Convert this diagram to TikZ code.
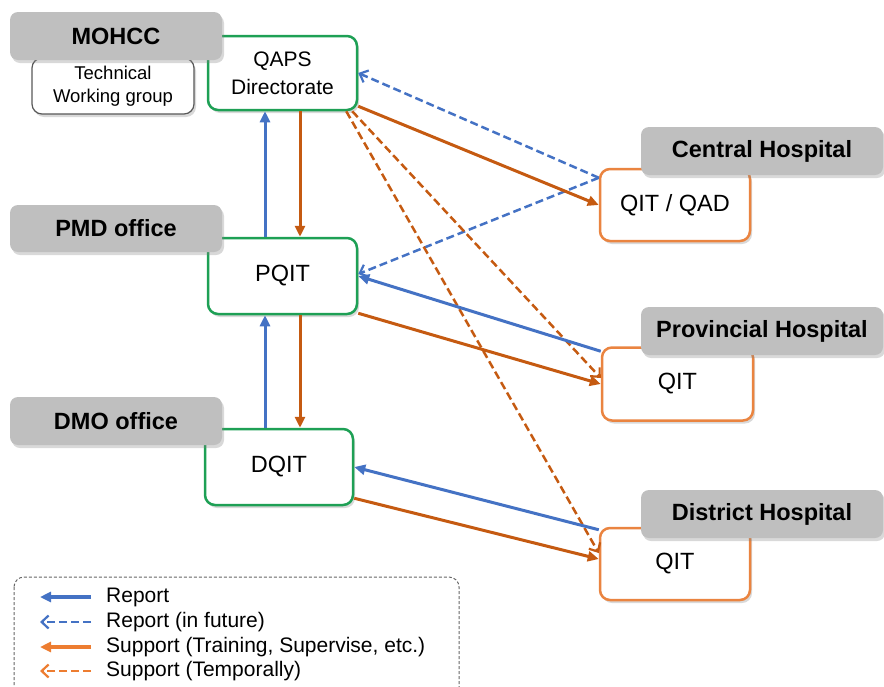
\documentclass[tikz,border=0pt]{standalone}
\usepackage{fontspec}
\setmainfont{Liberation Sans}
\usetikzlibrary{arrows.meta,shadows}

\definecolor{repblue}{RGB}{68,114,196}
\definecolor{suporange}{RGB}{197,90,17}
\definecolor{keyorange}{RGB}{237,125,49}
\definecolor{hosporange}{RGB}{234,132,64}
\definecolor{teamgreen}{RGB}{30,160,85}
\definecolor{labelgray}{RGB}{191,191,191}

\newcommand{\headfont}{\fontsize{23.5}{27}\selectfont\bfseries}
\newcommand{\boxfont}{\fontsize{23.5}{28}\selectfont}

\tikzset{
  softshadow/.style={drop shadow={shadow xshift=2pt,shadow yshift=-3pt,opacity=.3}},
  office/.style={rectangle,rounded corners=8pt,fill=labelgray,softshadow,
    inner sep=0pt,font=\headfont},
  team/.style={rectangle,rounded corners=10pt,draw=teamgreen,line width=2.5pt,
    fill=white,softshadow,inner sep=0pt,align=center,font=\boxfont},
  hosp/.style={rectangle,rounded corners=10pt,draw=hosporange,line width=2.5pt,
    fill=white,softshadow,inner sep=0pt,align=center,font=\boxfont},
  report/.style={repblue,line width=3pt,-{Triangle[length=11pt,width=10pt]}},
  future/.style={repblue,line width=2.5pt,dash pattern=on 8pt off 4pt,
    -{Straight Barb[length=7pt,width=13pt,line width=2.2pt]}},
  support/.style={suporange,line width=3pt,-{Triangle[length=11pt,width=10pt]}},
  temporal/.style={suporange,line width=2.5pt,dash pattern=on 8pt off 4pt,
    -{Straight Barb[length=7pt,width=13pt,line width=2.2pt]}}
}

\begin{document}
\begin{tikzpicture}[x=1pt,y=-1pt]
  \useasboundingbox (0,0) rectangle (884,686);

  % working boxes
  \node[rectangle,rounded corners=10pt,draw=black!65,line width=1.2pt,fill=white,
    softshadow,minimum width=162pt,minimum height=56pt,align=center,
    font=\fontsize{18.5}{23}\selectfont] (twg) at (113,86) {Technical\\Working group};
  \node[team,minimum width=149pt,minimum height=74pt,font=\fontsize{21}{28}\selectfont]
    (qaps) at (282.5,73) {QAPS\\Directorate};
  \node[team,minimum width=149pt,minimum height=76pt] (pqit) at (282.5,276) {PQIT};
  \node[team,minimum width=148pt,minimum height=76pt] (dqit) at (279,467) {DQIT};
  \node[hosp,minimum width=150pt,minimum height=72pt] (cqit) at (675,205) {QIT / QAD};
  \node[hosp,minimum width=151pt,minimum height=73pt] (provqit) at (677.5,384) {QIT};
  \node[hosp,minimum width=150pt,minimum height=72pt] (distqit) at (675,564) {QIT};

  % vertical links
  \coordinate (up1) at ([xshift=-17.5pt]pqit.north);
  \coordinate (dn1) at ([xshift=17.5pt]pqit.north);
  \coordinate (up2) at ([xshift=-17.5pt]pqit.south);
  \coordinate (dn2) at ([xshift=17.5pt]pqit.south);
  \draw[report] (up1) -- (up1 |- qaps.south);
  \draw[support] (dn1 |- qaps.south) -- (dn1);
  \draw[report] (up2 |- dqit.north) -- (up2);
  \draw[support] (dn2) -- (dn2 |- dqit.north);

  % links to the hospitals
  \draw[future] ([yshift=-10pt]cqit.north west) -- (qaps.east);
  \draw[future] ([yshift=-10pt]cqit.north west) -- ([yshift=2pt]pqit.east);
  \draw[support] ([yshift=5pt]qaps.south east) -- (cqit.west);
  \draw[temporal] ([xshift=-6pt]qaps.south east) -- ([yshift=6pt]provqit.west);
  \draw[temporal] ([xshift=-12pt]qaps.south east) -- ([yshift=11pt]distqit.west);
  \draw[report] ([yshift=-5pt]provqit.north west) -- (pqit.east);
  \draw[support] ([yshift=2pt]pqit.south east) -- (provqit.west);
  \draw[report] ([yshift=-3pt]distqit.north west) -- (dqit.east);
  \draw[support] ([yshift=8pt]dqit.south east) -- ([yshift=5pt]distqit.west);

  % office labels
  \node[office,minimum width=212pt,minimum height=48pt] (mohcc) at (116,36) {MOHCC};
  \node[office,minimum width=212pt,minimum height=47pt] (pmd) at (116,228.5) {PMD office};
  \node[office,minimum width=212pt,minimum height=48pt] (dmo) at (116,421) {DMO office};
  \node[office,minimum width=242pt,minimum height=48pt] (central) at (762,151) {Central Hospital};
  \node[office,minimum width=242pt,minimum height=48pt] (provincial) at (762,331) {Provincial Hospital};
  \node[office,minimum width=242pt,minimum height=48pt] (district) at (762,514) {District Hospital};

  % key
  \draw[black!60,line width=1pt,dash pattern=on 3pt off 2pt,rounded corners=10pt]
    (14,577) rectangle (459,700);
  \begin{scope}[every node/.style={anchor=west,inner sep=0pt,font=\fontsize{21}{24}\selectfont}]
    \node (k1) at (106,597) {Report};
    \node (k2) at (106,622) {Report (in future)};
    \node (k3) at (106,647) {Support (Training, Supervise, etc.)};
    \node (k4) at (106,671) {Support (Temporally)};
  \end{scope}
  \draw[report,line width=4pt] ([xshift=-15pt]k1.west) -- ++(-51,0);
  \draw[future] ([xshift=-15pt]k2.west) -- ++(-51,0);
  \draw[support,keyorange,line width=4pt] ([xshift=-15pt]k3.west) -- ++(-51,0);
  \draw[temporal,keyorange] ([xshift=-15pt]k4.west) -- ++(-51,0);
\end{tikzpicture}
\end{document}
